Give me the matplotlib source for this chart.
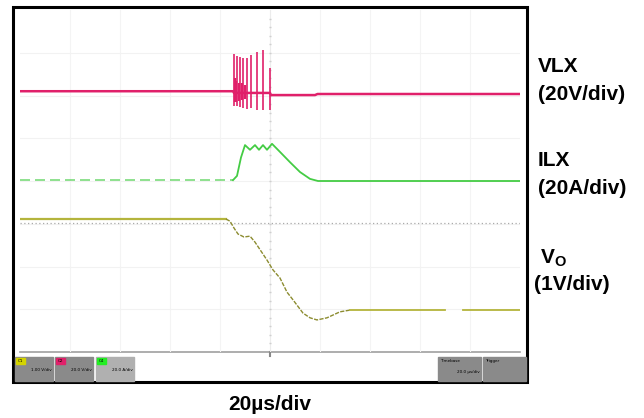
import matplotlib.pyplot as plt
from matplotlib.patches import Rectangle

# screen is 10 div x 8 div, time axis in us (20us/div), traces in divisions
vlx_t = [-100, -14.8, -14.4, -8, 0, 0.4, 18, 19, 100]
vlx_v = [6.10, 6.10, 6.06, 6.06, 6.06, 6.01, 6.01, 6.035, 6.035]
spike_t = [-14.4, -13.2, -12.0, -10.8, -9.2, -7.6, -5.2, -2.8, 0.0]
spike_hi = [6.97, 6.92, 6.90, 6.88, 6.88, 6.95, 7.02, 7.06, 6.64]
spike_lo = [5.75, 5.75, 5.73, 5.71, 5.68, 5.71, 5.66, 5.66, 5.66]
ring_t = [-14.0, -13.6, -12.6, -11.4, -10.2]
ring_hi = [6.40, 6.35, 6.30, 6.30, 6.25]
ring_lo = [5.85, 5.85, 5.88, 5.90, 5.92]

ilx_pre_t = [-100, -14.8]
ilx_pre_v = [4.02, 4.02]
ilx_t = [-14.8, -13.2, -11.6, -10.0, -8.0, -6.0, -4.4, -2.8, -1.2, 0.8,
         4.0, 8.0, 12.0, 16.0, 19.2, 100]
ilx_v = [4.02, 4.12, 4.55, 4.84, 4.73, 4.84, 4.73, 4.84, 4.73, 4.87,
         4.68, 4.44, 4.21, 4.05, 4.00, 4.00]

vo_pre_t = [-100, -17.6]
vo_pre_v = [3.11, 3.11]
vo_t = [-17.6, -16, -14.4, -12.8, -10.4, -8, -6, -3.6, -1.2, 1.2, 4, 6.8,
        9.2, 13.2, 16, 18.8, 22.8, 28, 32]
vo_v = [3.11, 3.06, 2.90, 2.76, 2.69, 2.71, 2.57, 2.36, 2.15, 1.92, 1.73,
        1.40, 1.22, 0.91, 0.80, 0.75, 0.80, 0.94, 0.98]
vo_post_t = [32, 70, 77, 100]
vo_post_v = [0.98, 0.98, 0.98, 0.98]

ref_level = 3.02

channels = ['C1', 'C2', 'C4']
ch_scales = ['1.00 V/div', '20.0 V/div', '20.0 A/div']

pink = '#e0206a'
green = '#44cc44'
olive = '#b4b43c'

fig = plt.figure(figsize=(6.44, 4.18), dpi=100)

# background axes in pixel coordinates for the scope frame
bg = fig.add_axes([0, 0, 1, 1])
bg.set_xlim(0, 644)
bg.set_ylim(418, 0)
bg.axis('off')
bg.add_patch(Rectangle((13, 7), 514, 375, fill=False, ec='black', lw=2.2))
bg.plot([20, 520], [352, 352], color='#a0a0a0', lw=1.2)
bg.plot([270, 270], [352, 356], color='#888888', lw=1.5)

# status boxes
box_x = [15, 55, 96]
tag_col = ['#d4d400', pink, '#22ee22']
box_col = ['#8a8a8a', '#8a8a8a', '#b0b0b0']
for i in range(3):
    bg.add_patch(Rectangle((box_x[i], 357), 38, 24, color=box_col[i]))
    bg.add_patch(Rectangle((box_x[i] + 1, 358), 9, 6, color=tag_col[i]))
    bg.text(box_x[i] + 5.5, 361.5, channels[i], fontsize=3, ha='center', va='center')
    bg.text(box_x[i] + 37, 370, ch_scales[i], fontsize=3, ha='right', va='center')
bg.add_patch(Rectangle((438, 357), 43, 24, color='#8a8a8a'))
bg.add_patch(Rectangle((483, 357), 43, 24, color='#8a8a8a'))
bg.text(440, 361, 'Timebase', fontsize=3, va='center')
bg.text(480, 372, '20.0 µs/div', fontsize=3, ha='right', va='center')
bg.text(485, 361, 'Trigger', fontsize=3, va='center')

# graticule axes
ax = fig.add_axes([20 / 644, (418 - 352) / 418, 500 / 644, 342 / 418])
ax.set_xlim(-100, 100)
ax.set_ylim(0, 8)
ax.axis('off')
for k in range(1, 10):
    ax.axvline(-100 + 20 * k, color='#f4f4f4', lw=0.8, zorder=0)
for k in range(1, 8):
    ax.axhline(k, color='#f2f2f2', lw=0.8, zorder=0)
ax.axvline(0, color='#ececec', lw=0.8, zorder=0)
ax.plot([0] * 39, [0.2 * k for k in range(1, 40)], ls='none', marker='_',
        ms=2, color='#cfcfcf', zorder=0)
ax.axhline(ref_level, color='#aaaaaa', lw=0.9, ls=(0, (1, 2)), zorder=1)

# VLX
ax.plot(vlx_t, vlx_v, color=pink, lw=1.8, zorder=3)
ax.vlines(spike_t, spike_lo, spike_hi, color=pink, lw=1.2, zorder=3)
ax.vlines(ring_t, ring_lo, ring_hi, color=pink, lw=1.6, zorder=3)

# ILX
ax.plot(ilx_pre_t, ilx_pre_v, color=green, lw=1.2, ls=(0, (6, 3)), alpha=0.7, zorder=3)
ax.plot(ilx_t, ilx_v, color=green, lw=1.3, zorder=3)

# VO
ax.plot(vo_pre_t, vo_pre_v, color=olive, lw=1.6, zorder=3)
ax.plot(vo_t, vo_v, color='#8c8c30', lw=1.0, ls=(0, (3, 1)), zorder=3)
ax.plot(vo_post_t[:2], vo_post_v[:2], color=olive, lw=1.3, zorder=3)
ax.plot(vo_post_t[2:], vo_post_v[2:], color=olive, lw=1.3, zorder=3)

# channel labels on the right
lab = dict(fontsize=15, fontweight='bold', family='Liberation Sans', ha='left', va='center')
fig.text(538 / 644, 1 - 67 / 418, 'VLX', **lab)
fig.text(538 / 644, 1 - 95 / 418, '(20V/div)', **lab)
fig.text(538 / 644, 1 - 160 / 418, 'ILX', **lab)
fig.text(538 / 644, 1 - 188 / 418, '(20A/div)', **lab)
fig.text(540 / 644, 1 - 258 / 418, r'V$_\mathregular{O}$', **lab)
fig.text(534 / 644, 1 - 285 / 418, '(1V/div)', **lab)
fig.text(270 / 644, 1 - 405 / 418, '20µs/div', fontsize=15, fontweight='bold',
         family='Liberation Sans', ha='center', va='center')

plt.savefig('out.png', dpi=100)
